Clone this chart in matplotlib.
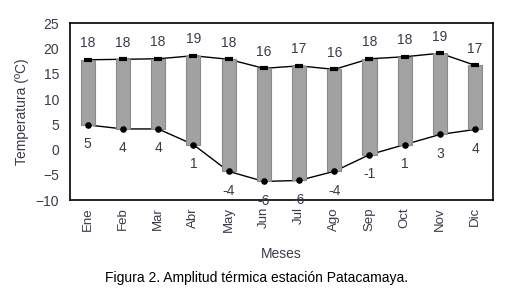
import numpy as np
import matplotlib.pyplot as plt

plt.rcParams["font.family"] = ["Liberation Sans", "DejaVu Sans"]

meses = ["Ene", "Feb", "Mar", "Abr", "May", "Jun", "Jul", "Ago", "Sep", "Oct", "Nov", "Dic"]
t_max = [17.8, 17.9, 18.0, 18.6, 17.9, 16.1, 16.6, 15.9, 18.0, 18.4, 19.1, 16.7]
t_min = [4.9, 4.1, 4.1, 1.0, -4.3, -6.3, -6.1, -4.3, -1.0, 1.0, 3.0, 4.0]
lab_max = [18, 18, 18, 19, 18, 16, 17, 16, 18, 18, 19, 17]
lab_min = [5, 4, 4, 1, -4, -6, -6, -4, -1, 1, 3, 4]

txt = "#3a3a4a"

fig = plt.figure(figsize=(5.27, 2.93), dpi=100)
ax = fig.add_axes([0.133, 0.317, 0.802, 0.603])

x = np.arange(len(meses))
hmax, hmin = np.array(t_max), np.array(t_min)

ax.plot(x, hmax, color="black", linewidth=1, zorder=1)
ax.plot(x, hmin, color="black", linewidth=1, zorder=1)
ax.bar(x, hmax - hmin, bottom=hmin, width=0.4, color="#a2a2a2",
       edgecolor="#8a8a8a", linewidth=0.8, zorder=2)
ax.scatter(x, hmax, marker="_", s=40, color="black", linewidths=3, zorder=3)
ax.scatter(x, hmin, marker="o", s=14, color="black", zorder=3)

for xi, v, lv in zip(x, hmax, lab_max):
    ax.annotate(str(lv), (xi, v), xytext=(0, 7), textcoords="offset points",
                ha="center", va="bottom", fontsize=10, color=txt)
for xi, v, lv in zip(x, hmin, lab_min):
    ax.annotate(str(lv), (xi, v), xytext=(0, -9), textcoords="offset points",
                ha="center", va="top", fontsize=10, color=txt)

ax.set_xlim(-0.5, len(meses) - 0.5)
ax.set_ylim(-10, 25)
ax.set_yticks(range(-10, 26, 5))
ax.set_xticks(x)
ax.set_xticklabels(meses, rotation=90, fontsize=9.5)
ax.tick_params(length=0, colors=txt)
ax.tick_params(axis="y", pad=8, labelsize=10)
ax.tick_params(axis="x", pad=5)
for s in ax.spines.values():
    s.set_linewidth(1.2)
    s.set_color("black")

ax.set_ylabel("Temperatura (ºC)", fontsize=10, color=txt, labelpad=5)
ax.set_xlabel("Meses", fontsize=10, color=txt, labelpad=11)

fig.text(0.486, 0.05, "Figura 2. Amplitud térmica estación Patacamaya.",
         ha="center", va="center", fontsize=10, color="black")

fig.savefig("out.png", dpi=100)
